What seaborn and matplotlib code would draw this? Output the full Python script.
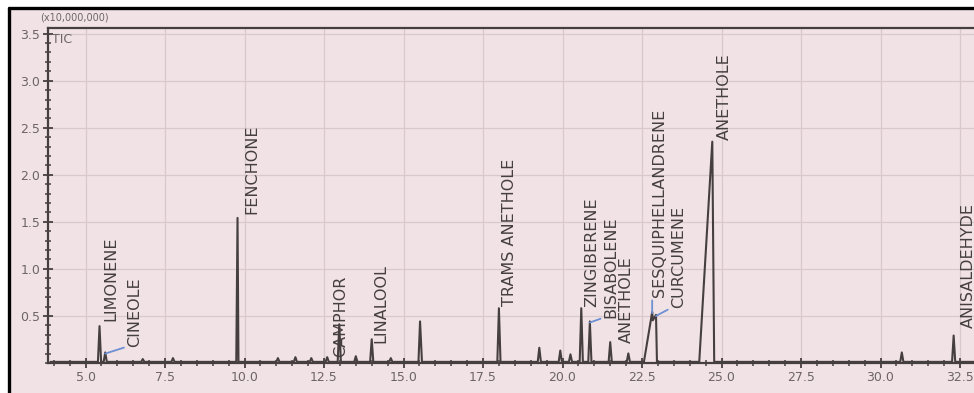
import numpy as np
import pandas as pd
import matplotlib
matplotlib.use("Agg")
import matplotlib.pyplot as plt
from matplotlib.patches import Rectangle
from matplotlib.lines import Line2D
from matplotlib.ticker import MultipleLocator
import seaborn as sns

# Labelled peaks: retention time (min) and TIC height (x10,000,000)
peak_names = ["LIMONENE", "CINEOLE", "FENCHONE", "CAMPHOR", "LINALOOL",
              "TRAMS ANETHOLE", "ZINGIBERENE", "BISABOLENE", "ANETHOLE",
              "SESQUIPHELLANDRENE", "CURCUMENE", "ANETHOLE", "ANISALDEHYDE"]
peak_times = [5.44, 5.62, 9.78, 12.98, 14.0, 18.0, 20.59, 20.86, 21.5,
              22.82, 22.94, 24.71, 32.3]
peak_heights = [0.38, 0.10, 1.53, 0.40, 0.24, 0.57, 0.57, 0.43, 0.21,
                0.53, 0.50, 2.34, 0.28]

# Unlabelled peaks
minor_times = [6.8, 7.75, 11.05, 11.6, 12.1, 12.6, 13.5, 14.6, 15.52,
               19.27, 19.93, 20.25, 22.07, 30.67]
minor_heights = [0.03, 0.04, 0.04, 0.05, 0.04, 0.05, 0.06, 0.04, 0.43,
                 0.15, 0.12, 0.08, 0.09, 0.10]

x_ticks = [5.0, 7.5, 10.0, 12.5, 15.0, 17.5, 20.0, 22.5, 25.0, 27.5, 30.0, 32.5]
y_ticks = [0.5, 1.0, 1.5, 2.0, 2.5, 3.0, 3.5]

# ---- peak shapes (left / right half widths in minutes) ----
shape = {9.78: (0.04, 0.03), 24.71: (0.41, 0.06), 22.82: (0.26, 0.12),
         22.94: (0.10, 0.03), 15.52: (0.05, 0.06)}
baseline = 0.012

all_t = peak_times + minor_times
all_h = peak_heights + minor_heights
tri = []
for t, h in zip(all_t, all_h):
    wl, wr = shape.get(t, (0.05, 0.05))
    tri.append((t - wl, t, t + wr, h))

vertices = sorted({3.9, 33.2} | {v for a, b, c, _ in tri for v in (a, b, c)})


def tic(x):
    s = baseline
    for a, b, c, h in tri:
        if a <= x <= b:
            s += h * (x - a) / (b - a)
        elif b < x <= c:
            s += h * (c - x) / (c - b)
    return s


trace = pd.DataFrame({"time": vertices, "tic": [tic(v) for v in vertices]})

# ---- styling ----
sns.set_theme(style="white")
plt.rcParams["font.family"] = ["DejaVu Sans"]
pink = "#f1e3e5"
ink = "#463f40"
grey_txt = "#6d6466"
blue = "#6d8fd4"

fig = plt.figure(figsize=(9.74, 3.93), dpi=100)
fig.patch.set_facecolor("white")
fig.add_artist(Rectangle((10 / 974, 0), 1, 384 / 393, transform=fig.transFigure,
                         facecolor=pink, edgecolor="none", zorder=-10))
fig.add_artist(Line2D([9 / 974, 9 / 974], [0, 385 / 393], transform=fig.transFigure,
                      color="black", lw=2.4))
fig.add_artist(Line2D([9 / 974, 1], [385 / 393, 385 / 393], transform=fig.transFigure,
                      color="black", lw=2.4))

ax = fig.add_axes([48 / 974, 30 / 393, 1 - 48 / 974, 335 / 393])
ax.set_facecolor("none")

sns.lineplot(data=trace, x="time", y="tic", ax=ax, color=ink, lw=1.5,
             estimator=None, sort=True, zorder=3)

ax.set_xlim(3.82, 32.94)
ax.set_ylim(0, 3.56)
ax.set_xticks(x_ticks)
ax.set_yticks(y_ticks)
ax.set_xticklabels([f"{v:.1f}" for v in x_ticks])
ax.set_yticklabels([f"{v:.1f}" for v in y_ticks])
ax.xaxis.set_minor_locator(MultipleLocator(0.5))
ax.yaxis.set_minor_locator(MultipleLocator(0.1))
ax.tick_params(axis="both", which="major", direction="inout", length=7,
               width=1.3, color=ink, labelsize=9, labelcolor=grey_txt, pad=2,
               bottom=True, left=True)
ax.tick_params(axis="both", which="minor", direction="inout", length=5,
               width=1.1, color=ink, bottom=True, left=True)
ax.set_xlabel("")
ax.set_ylabel("")
ax.grid(True, which="major", color="#d9c9cd", lw=0.9)
for side in ("left", "bottom", "top"):
    ax.spines[side].set_color(ink)
    ax.spines[side].set_linewidth(1.6)
ax.spines["right"].set_visible(False)

ax.text(0.004, 0.985, "TIC", transform=ax.transAxes, fontsize=9,
        color=grey_txt, ha="left", va="top")
fig.text(40 / 974, 1 - 18 / 393, "(x10,000,000)", fontsize=7, color=grey_txt,
         ha="left", va="center")

# ---- peak labels (offsets in pixels from the peak apex) ----
label_offsets = [(4, 6), (22, 7), (7, 5), (-6, -32), (2, -3), (3, 3), (3, 2),
                 (14, 5), (9, 0), (0, 16), (15, 8), (5, 3), (7, 9)]
leader = {"CINEOLE", "BISABOLENE", "SESQUIPHELLANDRENE", "CURCUMENE"}

for name, t, h, (dx, dy) in zip(peak_names, peak_times, peak_heights, label_offsets):
    props = None
    if name in leader:
        props = dict(arrowstyle="-", color=blue, lw=1.3, shrinkA=0, shrinkB=0,
                     relpos=(0.0, 0.0))
    ax.annotate(name, xy=(t, h), xytext=(dx, dy), textcoords="offset pixels",
                rotation=90, ha="left", va="bottom", fontsize=11.5, color=ink,
                arrowprops=props, zorder=4)

fig.savefig("out.png", dpi=100, facecolor=fig.get_facecolor())
